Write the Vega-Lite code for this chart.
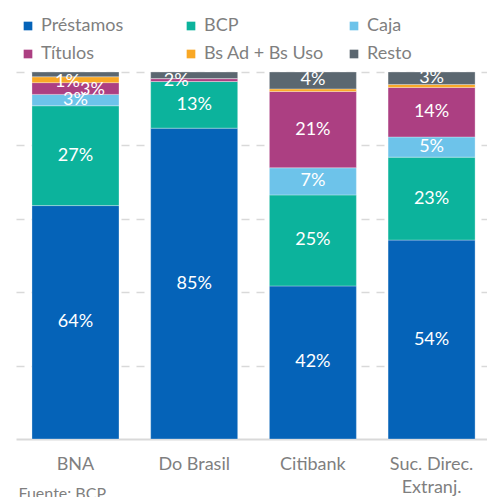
{
  "$schema": "https://vega.github.io/schema/vega-lite/v6.json",
  "width": 471,
  "height": 367,
  "autosize": {"type": "none"},
  "padding": {"left": 16, "top": 72, "right": 0, "bottom": 58},
  "background": "white",
  "title": {"text": "Dic-22", "anchor": "start", "orient": "top", "fontSize": 22, "font": "Lato", "color": "#7f7f7f", "fontWeight": "normal", "offset": 14},
  "config": {"view": {"stroke": null}, "font": "Lato"},
  "data": {"values": [
    {"banco": "BNA", "tipo": "Préstamos", "i": 1, "v": 63.6, "lbl": "64%"},
    {"banco": "BNA", "tipo": "BCP", "i": 2, "v": 27.2, "lbl": "27%"},
    {"banco": "BNA", "tipo": "Caja", "i": 3, "v": 3.1, "lbl": "3%"},
    {"banco": "BNA", "tipo": "Títulos", "i": 4, "v": 3.2, "lbl": "3%"},
    {"banco": "BNA", "tipo": "Bs Ad + Bs Uso", "i": 5, "v": 1.6, "lbl": "1%"},
    {"banco": "BNA", "tipo": "Resto", "i": 6, "v": 1.3, "lbl": ""},
    {"banco": "Do Brasil", "tipo": "Préstamos", "i": 1, "v": 84.7, "lbl": "85%"},
    {"banco": "Do Brasil", "tipo": "BCP", "i": 2, "v": 12.7, "lbl": "13%"},
    {"banco": "Do Brasil", "tipo": "Caja", "i": 3, "v": 0.0, "lbl": ""},
    {"banco": "Do Brasil", "tipo": "Títulos", "i": 4, "v": 0.8, "lbl": ""},
    {"banco": "Do Brasil", "tipo": "Bs Ad + Bs Uso", "i": 5, "v": 0.0, "lbl": ""},
    {"banco": "Do Brasil", "tipo": "Resto", "i": 6, "v": 1.8, "lbl": "2%"},
    {"banco": "Citibank", "tipo": "Préstamos", "i": 1, "v": 41.7, "lbl": "42%"},
    {"banco": "Citibank", "tipo": "BCP", "i": 2, "v": 24.8, "lbl": "25%"},
    {"banco": "Citibank", "tipo": "Caja", "i": 3, "v": 7.4, "lbl": "7%"},
    {"banco": "Citibank", "tipo": "Títulos", "i": 4, "v": 20.8, "lbl": "21%"},
    {"banco": "Citibank", "tipo": "Bs Ad + Bs Uso", "i": 5, "v": 0.7, "lbl": ""},
    {"banco": "Citibank", "tipo": "Resto", "i": 6, "v": 4.6, "lbl": "4%"},
    {"banco": "Suc. Direc.|Extranj.", "tipo": "Préstamos", "i": 1, "v": 54.2, "lbl": "54%"},
    {"banco": "Suc. Direc.|Extranj.", "tipo": "BCP", "i": 2, "v": 22.6, "lbl": "23%"},
    {"banco": "Suc. Direc.|Extranj.", "tipo": "Caja", "i": 3, "v": 5.5, "lbl": "5%"},
    {"banco": "Suc. Direc.|Extranj.", "tipo": "Títulos", "i": 4, "v": 13.5, "lbl": "14%"},
    {"banco": "Suc. Direc.|Extranj.", "tipo": "Bs Ad + Bs Uso", "i": 5, "v": 0.8, "lbl": ""},
    {"banco": "Suc. Direc.|Extranj.", "tipo": "Resto", "i": 6, "v": 3.4, "lbl": "3%"}
  ]},
  "encoding": {
    "x": {
      "field": "banco", "type": "nominal",
      "sort": ["BNA", "Do Brasil", "Citibank", "Suc. Direc.|Extranj."],
      "scale": {"paddingInner": 0.267, "paddingOuter": 0.1175, "align": 0.573},
      "axis": {
        "title": "Fuente: BCP", "titleAnchor": "start", "titleAlign": "left", "titleX": 2, "titleY": 46,
        "titleFontSize": 16, "titleFontWeight": "normal", "titleColor": "#7f7f7f", "titleFont": "Lato",
        "labelAngle": 0, "labelFontSize": 18, "labelColor": "#7f7f7f", "labelFont": "Lato",
        "labelPadding": 16, "labelLineHeight": 23, "ticks": false,
        "domainColor": "#d9d9d9", "domainWidth": 2,
        "labelExpr": "split(datum.label, '|')"
      }
    },
    "y": {
      "field": "v", "type": "quantitative", "stack": "zero",
      "scale": {"domain": [0, 100], "nice": false},
      "axis": {"title": null, "labels": false, "ticks": false, "domain": false, "grid": true,
        "gridDash": [8, 7], "gridColor": "#d9d9d9", "gridWidth": 1.5, "values": [20, 40, 60, 80, 100]}
    },
    "order": {"field": "i", "type": "quantitative"}
  },
  "layer": [
    {
      "mark": {"type": "bar", "stroke": "white", "strokeWidth": 0.5, "strokeOpacity": 0.6},
      "encoding": {
        "color": {
          "field": "tipo", "type": "nominal",
          "scale": {"domain": ["Préstamos", "BCP", "Caja", "Títulos", "Bs Ad + Bs Uso", "Resto"],
                    "range": ["#0563B8", "#0CB39C", "#6DC3EA", "#AC3F82", "#F9A825", "#5B6770"]},
          "legend": {"orient": "none", "legendX": 3, "legendY": -55, "columns": 3, "gridAlign": "all",
            "columnPadding": 21, "rowPadding": 10, "symbolType": "square", "symbolSize": 75,
            "symbolStrokeWidth": 0, "labelFontSize": 18, "labelColor": "#7f7f7f", "labelFont": "Lato",
            "labelOffset": 4, "title": null, "direction": "horizontal", "padding": 0}
        }
      }
    },
    {
      "mark": {"type": "text", "color": "white", "fontSize": 18, "font": "Lato"},
      "encoding": {
        "y": {"field": "v", "type": "quantitative", "stack": "zero", "bandPosition": 0.5},
        "detail": {"field": "tipo"},
        "text": {"condition": {"test": "!(datum.banco == 'BNA' && (datum.tipo == 'Bs Ad + Bs Uso' || datum.tipo == 'Títulos')) && !(datum.banco == 'Do Brasil' && datum.tipo == 'Resto')", "field": "lbl"}, "value": ""}
      }
    },
    {
      "mark": {"type": "text", "color": "white", "fontSize": 18, "font": "Lato", "dx": -8, "dy": 2},
      "encoding": {
        "y": {"field": "v", "type": "quantitative", "stack": "zero", "bandPosition": 0.5},
        "detail": {"field": "tipo"},
        "text": {"condition": {"test": "datum.banco == 'BNA' && datum.tipo == 'Bs Ad + Bs Uso'", "field": "lbl"}, "value": ""}
      }
    },
    {
      "mark": {"type": "text", "color": "white", "fontSize": 18, "font": "Lato", "dx": 17, "dy": 1},
      "encoding": {
        "y": {"field": "v", "type": "quantitative", "stack": "zero", "bandPosition": 0.5},
        "detail": {"field": "tipo"},
        "text": {"condition": {"test": "datum.banco == 'BNA' && datum.tipo == 'Títulos'", "field": "lbl"}, "value": ""}
      }
    },
    {
      "mark": {"type": "text", "color": "white", "fontSize": 18, "font": "Lato", "dx": -18, "dy": 6},
      "encoding": {
        "y": {"field": "v", "type": "quantitative", "stack": "zero", "bandPosition": 0.5},
        "detail": {"field": "tipo"},
        "text": {"condition": {"test": "datum.banco == 'Do Brasil' && datum.tipo == 'Resto'", "field": "lbl"}, "value": ""}
      }
    }
  ]
}
